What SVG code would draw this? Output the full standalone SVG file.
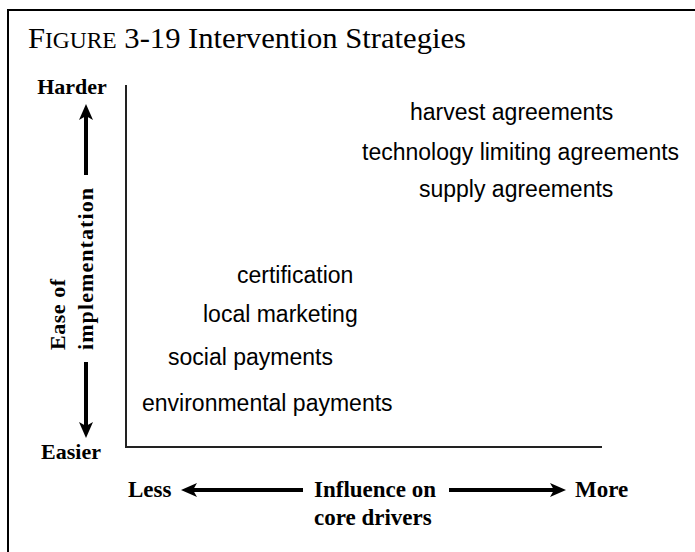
<svg xmlns="http://www.w3.org/2000/svg" width="695" height="552" viewBox="0 0 695 552">
<style>
.serif{font-family:"Liberation Serif","Times New Roman",serif;fill:#000}
.lab{font-family:"Liberation Serif","Times New Roman",serif;font-weight:bold;font-size:22px;fill:#000}
.lab2{font-family:"Liberation Serif","Times New Roman",serif;font-weight:bold;font-size:23px;fill:#000}
.item{font-family:"Liberation Sans",Arial,sans-serif;font-size:23px;fill:#000}
.arrow{stroke:#000;stroke-width:4;fill:none;marker-end:url(#ah)}
.axis{stroke:#222;stroke-width:2;fill:none}
</style>
<defs>
<marker id="ah" viewBox="0 0 16 14" refX="8" refY="7" markerWidth="16" markerHeight="14" orient="auto" markerUnits="userSpaceOnUse">
<path d="M0,0 L16,7 L0,14 L4,7 Z" fill="#000"/>
</marker>
</defs>
<rect width="695" height="552" fill="#fff"/>
<path d="M8,552 V10 H695" fill="none" stroke="#000" stroke-width="2"/>
<g id="title">
<text class="serif" x="28" y="48" font-size="30" textLength="438" lengthAdjust="spacingAndGlyphs"><tspan>F</tspan><tspan font-size="23">IGURE</tspan><tspan> 3-19 Intervention Strategies</tspan></text>
</g>
<g id="connectors">
<path class="axis" d="M126,85 V447 H602"/>
<line class="arrow" x1="86" y1="175" x2="86" y2="112"/>
<line class="arrow" x1="86" y1="362" x2="86" y2="430"/>
<line class="arrow" x1="303" y1="490" x2="189" y2="490"/>
<line class="arrow" x1="449" y1="490" x2="558" y2="490"/>
</g>
<g id="axis-labels">
<text id="harder" class="lab" x="72" y="94" text-anchor="middle">Harder</text>
<text id="easier" class="lab" x="71" y="459" text-anchor="middle">Easier</text>
<text id="ease-of" class="lab" transform="translate(65,350) rotate(-90)" x="0" y="0" textLength="71">Ease of</text>
<text id="implementation" class="lab" transform="translate(93,350) rotate(-90)" x="0" y="0" textLength="162">implementation</text>
<text id="less" class="lab2" x="128" y="497">Less</text>
<text id="more" class="lab2" x="575" y="497">More</text>
<text id="influence" class="lab2" x="314" y="497">Influence on</text>
<text id="core-drivers" class="lab2" x="314" y="525">core drivers</text>
</g>
<g id="items">
<text id="harvest" class="item" x="410" y="120">harvest agreements</text>
<text id="technology" class="item" x="362" y="160">technology limiting agreements</text>
<text id="supply" class="item" x="419" y="197">supply agreements</text>
<text id="certification" class="item" x="237" y="283">certification</text>
<text id="local" class="item" x="203" y="322">local marketing</text>
<text id="social" class="item" x="168" y="365">social payments</text>
<text id="environmental" class="item" x="142" y="411">environmental payments</text>
</g>
</svg>
